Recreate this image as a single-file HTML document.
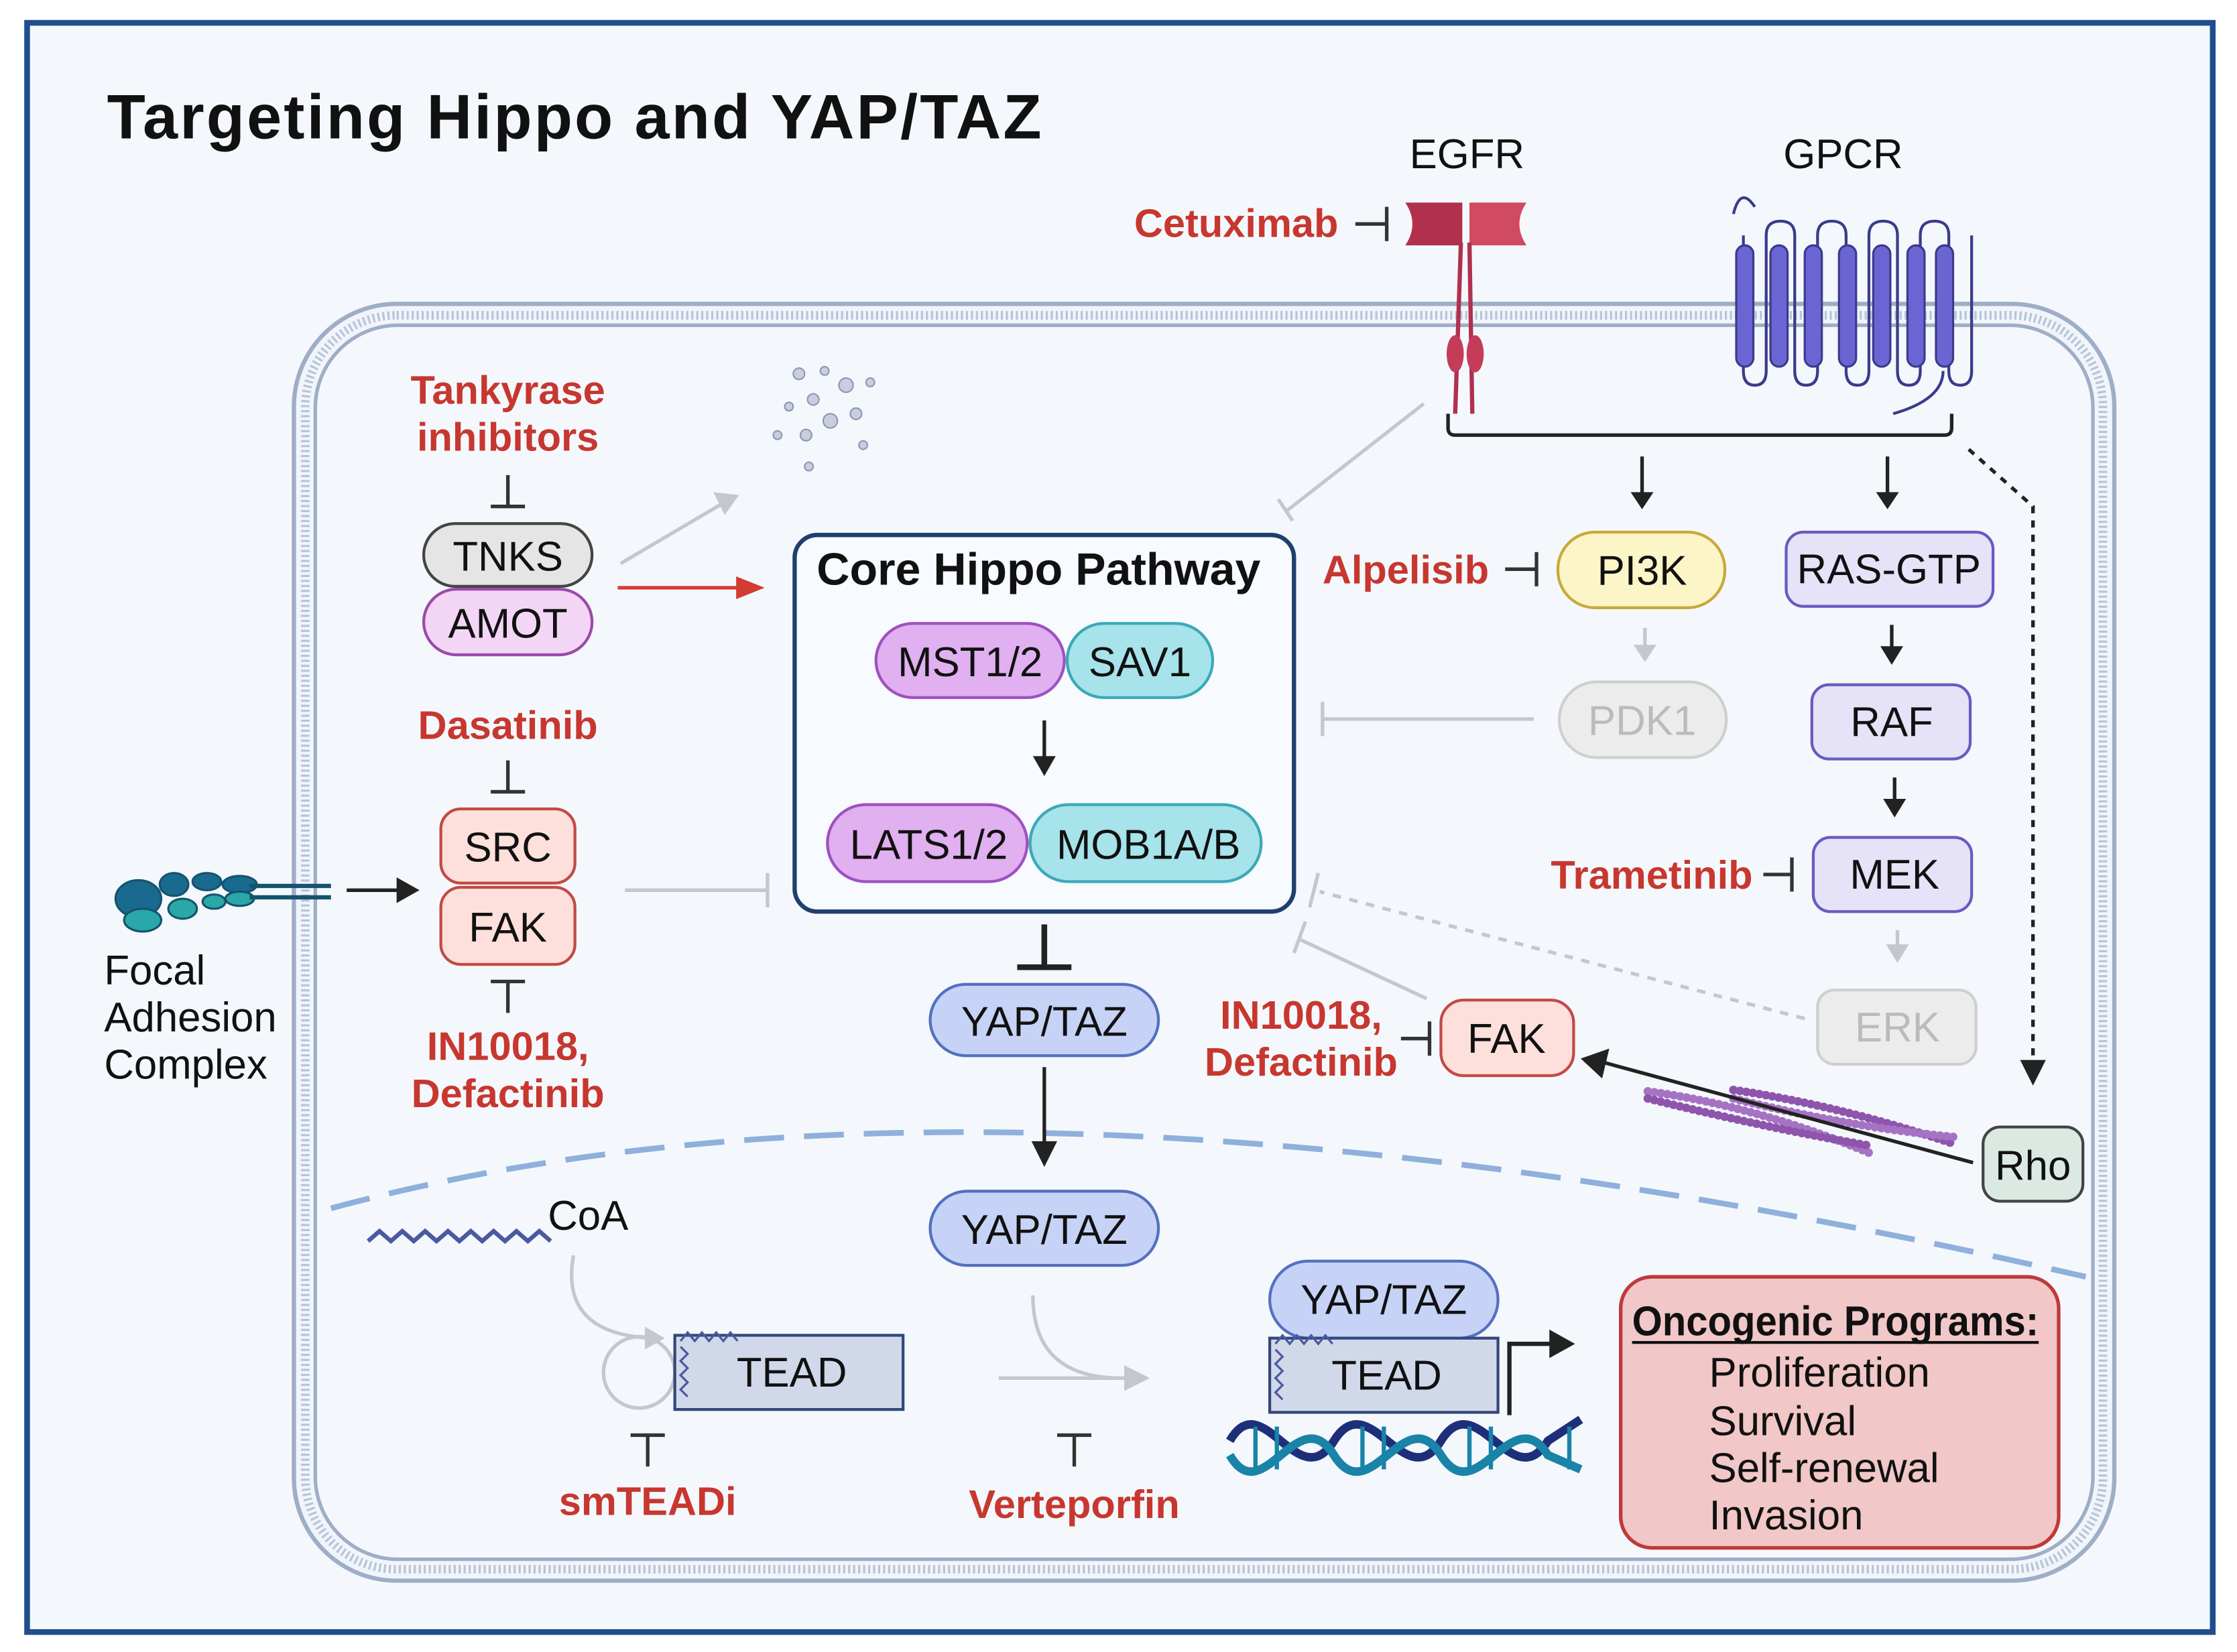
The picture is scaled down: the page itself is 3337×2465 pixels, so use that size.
<!DOCTYPE html>
<html><head><meta charset="utf-8"><style>
html,body{margin:0;padding:0;background:#fff}
svg{display:block}
text{font-family:"Liberation Sans Narrow","Liberation Sans",sans-serif}
.l{font-size:29px;fill:#111}
.r{font-size:28px;fill:#c7372f;font-weight:bold}
</style></head><body>
<svg width="3337" height="2465" viewBox="0 0 1568 1158" preserveAspectRatio="none" xmlns="http://www.w3.org/2000/svg">
<rect x="0" y="0" width="1568" height="1158" fill="#fff"/>
<rect x="19" y="16" width="1532" height="1128" fill="#f4f8fc" stroke="#1f4e8c" stroke-width="4"/>
<text x="75" y="97" style="font-family:'Liberation Sans',sans-serif;font-size:44px;font-weight:bold;fill:#111" textLength="655">Targeting Hippo and YAP/TAZ</text>

<rect x="206" y="213" width="1276" height="895" rx="72" fill="#f1f5fb" stroke="#9eaec6" stroke-width="3"/>
<rect x="214" y="221" width="1260" height="879" rx="64" fill="none" stroke="#b8c4d6" stroke-width="6" stroke-dasharray="1.5 2"/>
<rect x="221" y="228" width="1246" height="865" rx="58" fill="#f4f8fc" stroke="#9eaec6" stroke-width="2.5"/>

<path d="M232,847 Q700,720 1462,895" fill="none" stroke="#8fb0dc" stroke-width="4" stroke-dasharray="28 14"/>

<text class="l" x="988" y="118">EGFR</text>
<text class="l" x="1250" y="118">GPCR</text>
<path d="M985,142 h40 v30 h-40 q10,-15 0,-30z" fill="#b0304e"/>
<path d="M1030,142 h40 q-10,15 0,30 h-40z" fill="#d04a62"/>
<line x1="1024" y1="170" x2="1020" y2="290" stroke="#b0304e" stroke-width="3"/>
<line x1="1030" y1="170" x2="1032" y2="290" stroke="#b0304e" stroke-width="3"/>
<ellipse cx="1020" cy="248" rx="6" ry="13" fill="#c53c58"/>
<ellipse cx="1034" cy="248" rx="6" ry="13" fill="#c53c58"/>
<text class="r" x="795" y="166">Cetuximab</text>
<path d="M950,157 h22 M972,145 v24" stroke="#333" stroke-width="2.5"/>
<path d="M1215,150 q5,-20 15,-5 M1222,165 v95 q0,10 8,10 q8,0 8,-10 v-95 q0,-10 10,-10 q10,0 10,10 v95 q0,10 8,10 q8,0 8,-10 v-95 q0,-10 10,-10 q10,0 10,10 v95 q0,10 8,10 q8,0 8,-10 v-95 q0,-10 10,-10 q10,0 10,10 v95 q0,10 8,10 q8,0 8,-10 v-95 q0,-10 10,-10 q10,0 10,10 v95 q0,10 8,10 q8,0 8,-10 v-95 M1362,260 q0,20 -35,30" fill="none" stroke="#3b3b8c" stroke-width="2"/>
<g fill="#6b65d4" stroke="#3b3b8c" stroke-width="1.5">
<rect x="1217" y="172" width="12" height="85" rx="6"/><rect x="1241" y="172" width="12" height="85" rx="6"/><rect x="1265" y="172" width="12" height="85" rx="6"/><rect x="1289" y="172" width="12" height="85" rx="6"/><rect x="1313" y="172" width="12" height="85" rx="6"/><rect x="1337" y="172" width="12" height="85" rx="6"/><rect x="1357" y="172" width="12" height="85" rx="6"/></g>
<path d="M1015,290 v10 q0,5 5,5 h343 q5,0 5,-5 v-10" fill="none" stroke="#222" stroke-width="2.5"/>
<path d="M1151,320 v30" stroke="#222" stroke-width="2.5"/><path d="M1143,345 l8,12 l8,-12z" fill="#222"/>
<path d="M1323,320 v30" stroke="#222" stroke-width="2.5"/><path d="M1315,345 l8,12 l8,-12z" fill="#222"/>
<path d="M1380,315 L1425,355 V745" fill="none" stroke="#222" stroke-width="2.5" stroke-dasharray="5 5"/><path d="M1416,743 l9,18 l9,-18z" fill="#222"/>
<path d="M998,283 L902,358 M896,350 l10,15" stroke="#c4c8cc" stroke-width="2.5" fill="none"/>

<text class="r" x="356" y="283" text-anchor="middle">Tankyrase</text>
<text class="r" x="356" y="316" text-anchor="middle">inhibitors</text>
<path d="M356,333 v22 M344,355 h24" stroke="#333" stroke-width="2.5"/>
<rect x="297" y="367" width="118" height="44" rx="22" fill="#e5e5e5" stroke="#444" stroke-width="2"/>
<text class="l" x="356" y="400" text-anchor="middle">TNKS</text>
<rect x="297" y="413" width="118" height="46" rx="23" fill="#f3d6f6" stroke="#9b4aa8" stroke-width="2"/>
<text class="l" x="356" y="447" text-anchor="middle">AMOT</text>
<path d="M435,395 L508,352" stroke="#c4c8cc" stroke-width="2.5"/><path d="M500,345 l18,2 l-10,14z" fill="#c4c8cc"/>
<path d="M433,412 H520" stroke="#d33c33" stroke-width="2.5"/><path d="M516,404 l20,8 l-20,8z" fill="#d33c33"/>
<g fill="#c8cedf" stroke="#8e96b3" stroke-width="1">
<circle cx="560" cy="262" r="4"/><circle cx="578" cy="260" r="3"/><circle cx="593" cy="270" r="5"/><circle cx="570" cy="280" r="4"/><circle cx="553" cy="285" r="3"/><circle cx="582" cy="295" r="5"/><circle cx="600" cy="290" r="4"/><circle cx="545" cy="305" r="3"/><circle cx="565" cy="305" r="4"/><circle cx="605" cy="312" r="3"/><circle cx="567" cy="327" r="3"/><circle cx="610" cy="268" r="3"/></g>

<text class="r" x="356" y="518" text-anchor="middle">Dasatinib</text>
<path d="M356,533 v22 M344,555 h24" stroke="#333" stroke-width="2.5"/>
<rect x="309" y="567" width="94" height="52" rx="14" fill="#fde0dc" stroke="#c24a45" stroke-width="2"/>
<text class="l" x="356" y="604" text-anchor="middle">SRC</text>
<rect x="309" y="622" width="94" height="54" rx="14" fill="#fde0dc" stroke="#c24a45" stroke-width="2"/>
<text class="l" x="356" y="660" text-anchor="middle">FAK</text>
<path d="M344,688 h24 M356,688 v22" stroke="#333" stroke-width="2.5"/>
<text class="r" x="356" y="743" text-anchor="middle">IN10018,</text>
<text class="r" x="356" y="776" text-anchor="middle">Defactinib</text>
<path d="M438,624 H538 M538,612 v24" stroke="#c4c8cc" stroke-width="2.5"/>
<g stroke="#14546e" stroke-width="1.5">
<ellipse cx="97" cy="630" rx="16" ry="13" fill="#1a6a8f"/><ellipse cx="100" cy="645" rx="13" ry="8" fill="#2aa7a8"/>
<ellipse cx="122" cy="620" rx="10" ry="8" fill="#1a6a8f"/><ellipse cx="128" cy="637" rx="10" ry="7" fill="#2aa7a8"/>
<ellipse cx="145" cy="618" rx="10" ry="6" fill="#1a6a8f"/><ellipse cx="150" cy="632" rx="8" ry="5" fill="#2aa7a8"/>
<ellipse cx="168" cy="620" rx="12" ry="6" fill="#1a6a8f"/><ellipse cx="168" cy="630" rx="10" ry="5" fill="#2aa7a8"/></g>
<path d="M175,621 H232 M175,629 H232" stroke="#14546e" stroke-width="3"/>
<path d="M243,624 H282" stroke="#222" stroke-width="2.5"/><path d="M278,615 l16,9 l-16,9z" fill="#222"/>
<text class="l" x="73" y="690">Focal</text>
<text class="l" x="73" y="723">Adhesion</text>
<text class="l" x="73" y="756">Complex</text>

<rect x="557" y="375" width="350" height="264" rx="16" fill="#f7fafe" stroke="#1f3f6e" stroke-width="3"/>
<text x="728" y="410" text-anchor="middle" style="font-size:32px;font-weight:bold;fill:#111">Core Hippo Pathway</text>
<rect x="748" y="437" width="102" height="52" rx="26" fill="#a6e3ea" stroke="#3aa9b8" stroke-width="2"/>
<text class="l" x="799" y="474" text-anchor="middle">SAV1</text>
<rect x="614" y="437" width="132" height="52" rx="26" fill="#e0b0f0" stroke="#a050c0" stroke-width="2"/>
<text class="l" x="680" y="474" text-anchor="middle">MST1/2</text>
<path d="M732,505 v30" stroke="#222" stroke-width="2.5"/><path d="M724,530 l8,14 l8,-14z" fill="#222"/>
<rect x="722" y="564" width="162" height="54" rx="27" fill="#a6e3ea" stroke="#3aa9b8" stroke-width="2"/>
<text class="l" x="805" y="602" text-anchor="middle">MOB1A/B</text>
<rect x="580" y="564" width="140" height="54" rx="27" fill="#e0b0f0" stroke="#a050c0" stroke-width="2"/>
<text class="l" x="651" y="602" text-anchor="middle">LATS1/2</text>
<path d="M732,648 v30 M713,678 h38" stroke="#222" stroke-width="4"/>

<rect x="652" y="690" width="160" height="50" rx="25" fill="#c6d3f7" stroke="#5470c0" stroke-width="2"/>
<text class="l" x="732" y="726" text-anchor="middle">YAP/TAZ</text>
<path d="M732,748 v55" stroke="#222" stroke-width="2.5"/><path d="M723,800 l9,18 l9,-18z" fill="#222"/>
<rect x="652" y="835" width="160" height="52" rx="26" fill="#c6d3f7" stroke="#5470c0" stroke-width="2"/>
<text class="l" x="732" y="872" text-anchor="middle">YAP/TAZ</text>
<path d="M724,908 q0,57 60,58 M700,966 H790" fill="none" stroke="#c4c8cc" stroke-width="2.5"/><path d="M788,957 l18,9 l-18,9z" fill="#c4c8cc"/>
<path d="M741,1006 h24 M753,1006 v22" stroke="#333" stroke-width="2.5"/>
<text class="r" x="753" y="1064" text-anchor="middle">Verteporfin</text>

<path d="M258,870 l8,-7 l8,7 l8,-7 l8,7 l8,-7 l8,7 l8,-7 l8,7 l8,-7 l8,7 l8,-7 l8,7 l8,-7 l8,7 l8,-7 l8,7" fill="none" stroke="#4a5aa0" stroke-width="3"/>
<text class="l" x="384" y="862">CoA</text>
<path d="M402,880 q-10,55 55,58" fill="none" stroke="#c4c8cc" stroke-width="2.5"/><path d="M452,930 l14,8 l-14,8z" fill="#c4c8cc"/>
<circle cx="448" cy="962" r="25" fill="none" stroke="#c4c8cc" stroke-width="2.5"/>
<rect x="473" y="936" width="160" height="52" fill="#d1d8ea" stroke="#33487a" stroke-width="2"/>
<path d="M477,940 l5,-6 l5,6 l5,-6 l5,6 l5,-6 l5,6 l5,-6 l5,6 M477,944 l5,5 l-5,5 l5,5 l-5,5 l5,5 l-5,5 l5,5" fill="none" stroke="#4a5aa0" stroke-width="1.5"/>
<text class="l" x="555" y="972" text-anchor="middle">TEAD</text>
<path d="M442,1006 h24 M454,1006 v22" stroke="#333" stroke-width="2.5"/>
<text class="r" x="454" y="1062" text-anchor="middle">smTEADi</text>

<rect x="890" y="884" width="160" height="54" rx="27" fill="#c6d3f7" stroke="#5470c0" stroke-width="2"/>
<text class="l" x="970" y="921" text-anchor="middle">YAP/TAZ</text>
<rect x="890" y="938" width="160" height="52" fill="#d1d8ea" stroke="#33487a" stroke-width="2"/>
<path d="M894,942 l5,-6 l5,6 l5,-6 l5,6 l5,-6 l5,6 l5,-6 l5,6 M894,946 l5,5 l-5,5 l5,5 l-5,5 l5,5 l-5,5 l5,5" fill="none" stroke="#4a5aa0" stroke-width="1.5"/>
<text class="l" x="972" y="974" text-anchor="middle">TEAD</text>
<path d="M1058,992 V942 H1090" fill="none" stroke="#222" stroke-width="3"/><path d="M1086,932 l18,10 l-18,10z" fill="#222"/>
<path d="M862,1010 C885,970 910,1050 935,1010 C960,970 985,1050 1010,1010 C1035,970 1060,1050 1085,1010 L1108,995" fill="none" stroke="#1e2f7a" stroke-width="6"/>
<path d="M862,1020 C885,1060 910,980 935,1020 C960,1060 985,980 1010,1020 C1035,1060 1060,980 1085,1020 L1108,1030" fill="none" stroke="#1a83a8" stroke-width="6"/>
<g stroke="#1a83a8" stroke-width="3"><line x1="880" y1="1000" x2="880" y2="1030"/><line x1="895" y1="1000" x2="895" y2="1030"/><line x1="955" y1="1000" x2="955" y2="1030"/><line x1="970" y1="1000" x2="970" y2="1030"/><line x1="1030" y1="1000" x2="1030" y2="1030"/><line x1="1045" y1="1000" x2="1045" y2="1030"/><line x1="1100" y1="1000" x2="1100" y2="1030"/></g>

<rect x="1136" y="895" width="307" height="190" rx="22" fill="#f1c7c8" stroke="#c0393b" stroke-width="2.5"/>
<text x="1144" y="936" textLength="285" lengthAdjust="spacingAndGlyphs" style="font-size:29px;font-weight:bold;fill:#111">Oncogenic Programs:</text>
<line x1="1144" y1="941" x2="1429" y2="941" stroke="#111" stroke-width="2"/>
<text class="l" x="1198" y="972">Proliferation</text>
<text class="l" x="1198" y="1006">Survival</text>
<text class="l" x="1198" y="1039">Self-renewal</text>
<text class="l" x="1198" y="1072">Invasion</text>

<text class="r" x="927" y="409">Alpelisib</text>
<path d="M1055,399 h22 M1077,387 v24" stroke="#333" stroke-width="2.5"/>
<rect x="1092" y="373" width="117" height="53" rx="26" fill="#fbf5c8" stroke="#c9a93a" stroke-width="2"/>
<text class="l" x="1151" y="410" text-anchor="middle">PI3K</text>
<path d="M1153,440 v16" stroke="#c4c8cc" stroke-width="2.5"/><path d="M1145,452 l8,12 l8,-12z" fill="#c4c8cc"/>
<rect x="1093" y="478" width="117" height="53" rx="26" fill="#ececec" stroke="#cfcfcf" stroke-width="2"/>
<text x="1151" y="515" text-anchor="middle" style="font-size:29px;fill:#bbb">PDK1</text>
<path d="M1075,504 H927 M927,492 v24" stroke="#c4c8cc" stroke-width="2.5"/>

<rect x="1252" y="373" width="145" height="52" rx="12" fill="#e6e2f8" stroke="#6a5ac0" stroke-width="2"/>
<text class="l" x="1324" y="409" text-anchor="middle">RAS-GTP</text>
<path d="M1326,438 v20" stroke="#222" stroke-width="2.5"/><path d="M1318,453 l8,13 l8,-13z" fill="#222"/>
<rect x="1270" y="480" width="111" height="52" rx="12" fill="#e6e2f8" stroke="#6a5ac0" stroke-width="2"/>
<text class="l" x="1326" y="516" text-anchor="middle">RAF</text>
<path d="M1328,545 v20" stroke="#222" stroke-width="2.5"/><path d="M1320,560 l8,13 l8,-13z" fill="#222"/>
<rect x="1271" y="587" width="111" height="52" rx="12" fill="#e6e2f8" stroke="#6a5ac0" stroke-width="2"/>
<text class="l" x="1328" y="623" text-anchor="middle">MEK</text>
<text class="r" x="1087" y="623">Trametinib</text>
<path d="M1236,613 h20 M1256,601 v24" stroke="#333" stroke-width="2.5"/>
<path d="M1330,652 v14" stroke="#c4c8cc" stroke-width="2.5"/><path d="M1322,662 l8,13 l8,-13z" fill="#c4c8cc"/>
<rect x="1274" y="694" width="111" height="52" rx="12" fill="#ececec" stroke="#cfcfcf" stroke-width="2"/>
<text x="1330" y="730" text-anchor="middle" style="font-size:29px;fill:#bbb">ERK</text>
<path d="M1265,714 L925,625" stroke="#c4c8cc" stroke-width="2.5" stroke-dasharray="6 6"/>
<path d="M924,612 l-6,24" stroke="#c4c8cc" stroke-width="2.5"/>

<path d="M1000,700 L910,658 M915,646 l-8,22" stroke="#c4c8cc" stroke-width="2.5"/>
<text class="r" x="912" y="721" text-anchor="middle">IN10018,</text>
<text class="r" x="912" y="754" text-anchor="middle">Defactinib</text>
<path d="M982,728 h20 M1002,716 v24" stroke="#333" stroke-width="2.5"/>
<rect x="1010" y="701" width="93" height="53" rx="16" fill="#fde0dc" stroke="#c24a45" stroke-width="2"/>
<text class="l" x="1056" y="738" text-anchor="middle">FAK</text>
<g fill="none" stroke-linecap="round" stroke-dasharray="0.1 4.5" stroke-width="6">
<path d="M1155,765 Q1230,775 1310,808" stroke="#a673c4"/>
<path d="M1155,770 Q1235,790 1310,803" stroke="#8e55ad"/>
<path d="M1215,764 Q1290,775 1370,802" stroke="#8e55ad"/>
<path d="M1215,770 Q1295,790 1370,797" stroke="#a673c4"/>
</g>
<path d="M1383,815 L1125,745" stroke="#222" stroke-width="2.5"/><path d="M1128,735 l-20,7 l15,14z" fill="#222"/>
<rect x="1390" y="790" width="70" height="52" rx="12" fill="#dbe9e2" stroke="#444" stroke-width="2"/>
<text class="l" x="1425" y="827" text-anchor="middle">Rho</text>
</svg>
</body></html>
